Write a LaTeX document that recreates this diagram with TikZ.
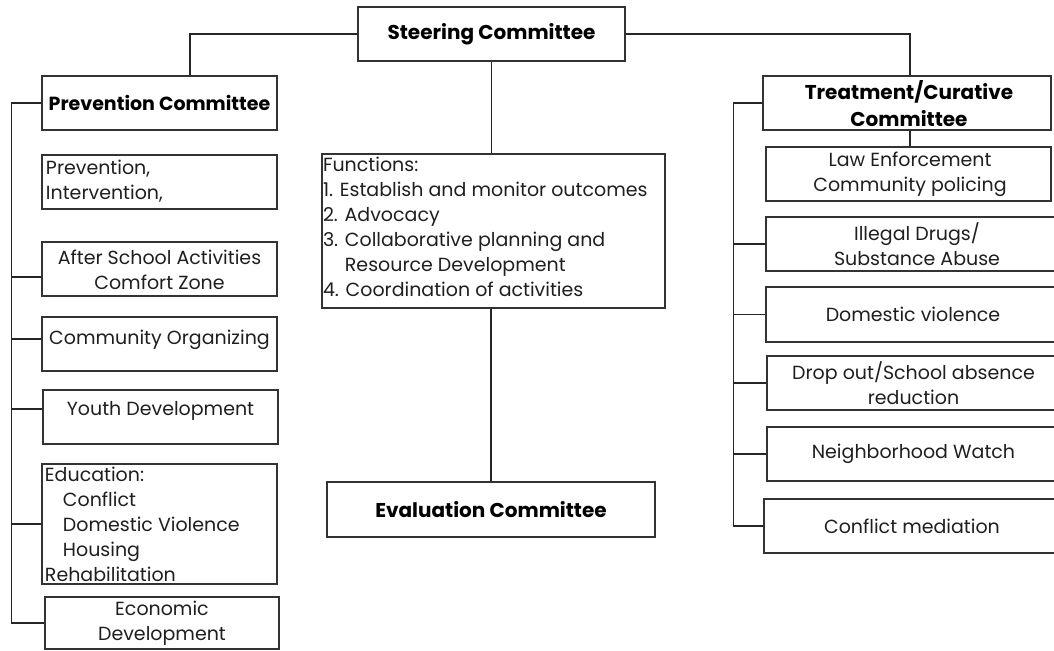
\documentclass[tikz,border=0pt]{standalone}
\usepackage{fontspec}
\setmainfont{Poppins}
\begin{document}
\begin{tikzpicture}[x=1bp,y=-1bp,
  line width=1.2bp, draw=black!85,
  box/.style={draw=black!80, line width=1.2bp, rectangle, inner sep=0pt, fill=white},
  txt/.style={inner sep=0pt, align=center, text=black!88,
    font=\fontsize{19bp}{25bp}\selectfont},
  ltxt/.style={inner sep=0pt, align=left, text=black!88,
    font=\fontsize{19bp}{25bp}\selectfont},
  btxt/.style={inner sep=0pt, align=center, text=black,
    font=\fontsize{20bp}{27bp}\selectfont\bfseries},
  conn/.style={draw=black!85, line width=1.2bp}]
\useasboundingbox (0,0) rectangle (1054,651);
\clip (0,0) rectangle (1054,651);

% ---- boxes ----
\node[box, minimum width=267bp, minimum height=54bp] (steer) at (491.5,34) {};
\node[box, minimum width=235bp, minimum height=54bp] (prev) at (159.5,103) {};
\node[box, minimum width=235bp, minimum height=54bp] (pi) at (159.5,182) {};
\node[box, minimum width=235bp, minimum height=54bp] (after) at (159.5,269) {};
\node[box, minimum width=235bp, minimum height=54bp] (comm) at (159.5,344) {};
\node[box, minimum width=235bp, minimum height=54bp] (youth) at (160.5,417) {};
\node[box, minimum width=235bp, minimum height=120bp] (edu) at (159.5,524) {};
\node[box, minimum width=234bp, minimum height=52bp] (econ) at (162,623) {};
\node[box, minimum width=343bp, minimum height=154bp] (func) at (493.5,231) {};
\node[box, minimum width=328bp, minimum height=55bp] (eval) at (491,509.5) {};
\node[box, minimum width=288bp, minimum height=54bp] (treat) at (907,103) {};
\node[box, minimum width=285bp, minimum height=54bp] (law) at (908.5,174) {};
\node[box, minimum width=294bp, minimum height=54bp] (drugs) at (913,244) {};
\node[box, minimum width=294bp, minimum height=55bp] (dv) at (913,314.5) {};
\node[box, minimum width=293bp, minimum height=54bp] (drop) at (913.5,383) {};
\node[box, minimum width=293bp, minimum height=54bp] (watch) at (913.5,454) {};
\node[box, minimum width=296bp, minimum height=54bp] (med) at (912,526) {};

% ---- texts ----
\node[btxt] (steer-t) at (steer) {Steering Committee};
\node[btxt, font=\fontsize{19bp}{27bp}\selectfont\bfseries] (prev-t) at (prev) {Prevention Committee};
\node[ltxt, anchor=north west] (pi-t) at ([xshift=4bp,yshift=-5bp]pi.north west)
  {Prevention,\\Intervention,};
\node[txt] (after-t) at ([yshift=-1bp]after) {After School Activities\\Comfort Zone};
\node[txt] (comm-t) at ([yshift=4bp]comm) {Community Organizing};
\node[txt] (youth-t) at ([yshift=6bp]youth) {Youth Development};
\node[ltxt, anchor=north west] (edu-t) at ([xshift=3bp,yshift=-3bp]edu.north west)
  {Education:\\\hspace*{18bp}Conflict\\\hspace*{18bp}Domestic Violence\\%
   \hspace*{18bp}Housing\\Rehabilitation};
\node[txt] (econ-t) at (econ) {Economic\\Development};
\node[ltxt, anchor=north west] (func-t) at ([xshift=1bp,yshift=-3bp]func.north west)
  {Functions:\\1. Establish and monitor outcomes\\2. Advocacy\\%
   3. Collaborative planning and\\\phantom{3. }Resource Development\\%
   4. Coordination of activities};
\node[btxt] (eval-t) at (eval) {Evaluation Committee};
\node[btxt] (treat-t) at ([xshift=2bp,yshift=-1bp]treat) {Treatment/Curative\\Committee};
\node[txt] (law-t) at ([xshift=1.5bp]law) {Law Enforcement\\Community policing};
\node[txt] (drugs-t) at ([xshift=4bp]drugs) {Illegal Drugs/\\Substance Abuse};
\node[txt] (dv-t) at (dv) {Domestic violence};
\node[txt] (drop-t) at (drop) {Drop out/School absence\\reduction};
\node[txt] (watch-t) at (watch) {Neighborhood Watch};
\node[txt] (med-t) at (med) {Conflict mediation};

% ---- connectors: top level ----
\draw[conn] (steer.west) -| ([xshift=30.5bp]prev.north);
\draw[conn] (steer.east) -| ([xshift=3bp]treat.north);
\draw[conn] (steer.south) -- (steer.south |- func.north);
\draw[conn] (eval.north) -- (eval.north |- func.south);
\draw[conn] ([xshift=3bp]treat.south) -- ([xshift=3bp]treat.south |- law.north);

% ---- left spine ----
\draw[conn] (prev.west) -- ++(-30,0) coordinate (lsp) |- (econ.west);
\draw[conn] ([yshift=-8bp]after.west) -- ([yshift=-8bp]after.west -| lsp);
\draw[conn] ([yshift=5bp]comm.west) -- ([yshift=5bp]comm.west -| lsp);
\draw[conn] ([yshift=8bp]youth.west) -- ([yshift=8bp]youth.west -| lsp);
\draw[conn] (edu.west) -- (edu.west -| lsp);

% ---- right spine ----
\draw[conn] (treat.west) -- ++(-29,0) coordinate (rsp) |- (med.west);
\draw[conn] (drugs.west) -- (drugs.west -| rsp);
\draw[conn] (dv.west) -- (dv.west -| rsp);
\draw[conn] (drop.west) -- (drop.west -| rsp);
\draw[conn] (watch.west) -- (watch.west -| rsp);
\end{tikzpicture}
\end{document}
